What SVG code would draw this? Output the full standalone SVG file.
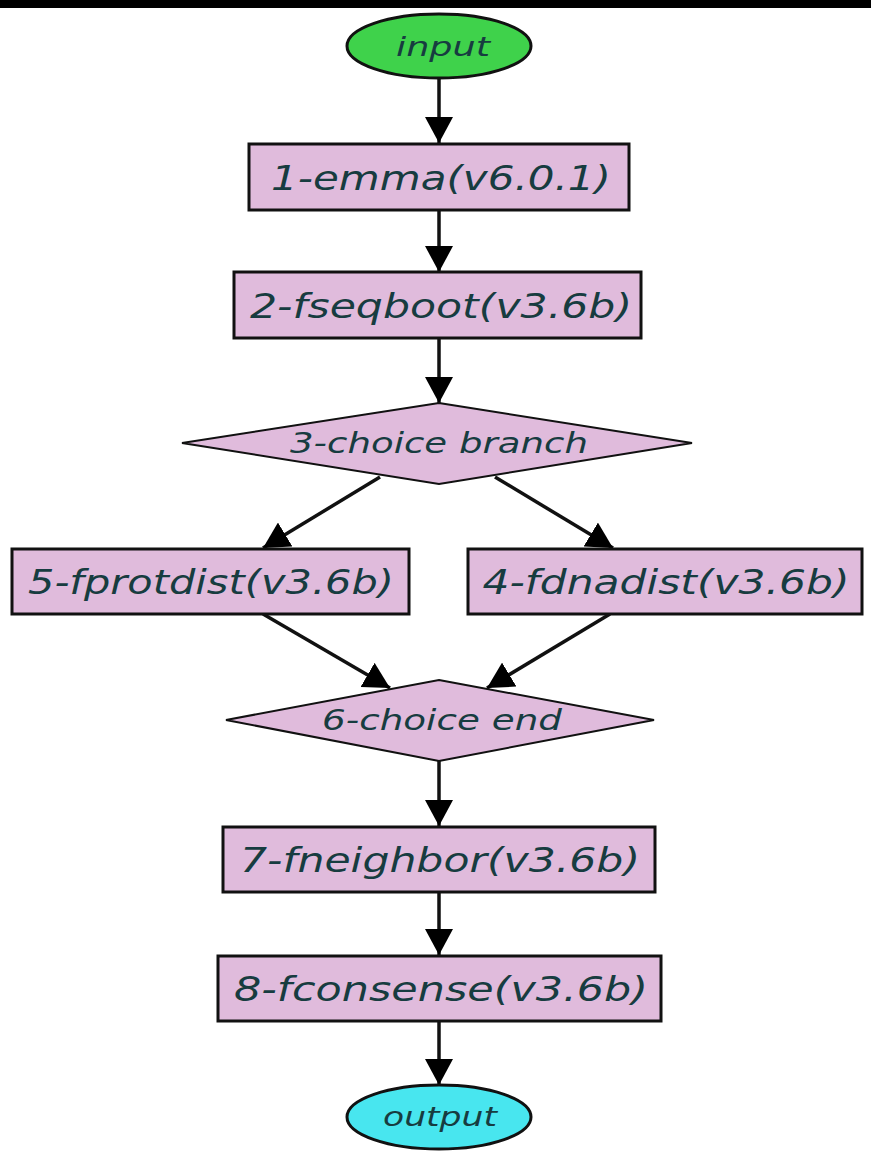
<svg xmlns="http://www.w3.org/2000/svg" width="871" height="1152" viewBox="0 0 871 1152">
<style>
.box{fill:#e0bbdc;stroke:#111;stroke-width:3}
.term{stroke:#111;stroke-width:3}
.lbl{font-family:"DejaVu Sans",sans-serif;font-style:italic;font-size:34px;fill:#173c40;text-anchor:middle}
.edge{stroke:#111;stroke-width:3.5;fill:none;marker-end:url(#ah)}
</style>
<defs>
<marker id="ah" markerUnits="userSpaceOnUse" markerWidth="26" markerHeight="28" viewBox="0 0 26 28" refX="26" refY="14" orient="auto">
<path d="M0,0 L26,14 L0,28 Z" fill="#000"/>
</marker>
</defs>
<rect x="0" y="0" width="871" height="8" fill="#000"/>
<rect x="0" y="8" width="871" height="1144" fill="#fff"/>
<g id="connectors">
<line class="edge" x1="439" y1="78" x2="439" y2="143"/>
<line class="edge" x1="439" y1="210" x2="439" y2="272"/>
<line class="edge" x1="439" y1="338" x2="439" y2="403"/>
<line class="edge" x1="380" y1="477" x2="263" y2="548"/>
<line class="edge" x1="495" y1="477" x2="613" y2="548"/>
<line class="edge" x1="263" y1="614" x2="390" y2="688"/>
<line class="edge" x1="610" y1="614" x2="487" y2="688"/>
<line class="edge" x1="439" y1="761" x2="439" y2="826"/>
<line class="edge" x1="439" y1="892" x2="439" y2="955"/>
<line class="edge" x1="439" y1="1021" x2="439" y2="1085"/>
</g>
<g id="input">
<ellipse class="term" cx="439" cy="46" rx="92" ry="32" fill="#3fd24b"/>
<text class="lbl" x="443" y="56" textLength="94" lengthAdjust="spacingAndGlyphs" style="font-size:27px">input</text>
</g>
<g id="n1">
<rect class="box" x="249" y="144" width="380" height="66"/>
<text class="lbl" x="441" y="190" textLength="340" lengthAdjust="spacingAndGlyphs">1-emma(v6.0.1)</text>
</g>
<g id="n2">
<rect class="box" x="234" y="272" width="407" height="66"/>
<text class="lbl" x="441" y="318" textLength="382" lengthAdjust="spacingAndGlyphs">2-fseqboot(v3.6b)</text>
</g>
<g id="n3">
<polygon class="box" points="439,403 692,443 439,484 182,443" style="stroke-width:2"/>
<text class="lbl" x="439" y="453" textLength="298" lengthAdjust="spacingAndGlyphs" style="font-size:28px">3-choice branch</text>
</g>
<g id="n5">
<rect class="box" x="12" y="549" width="397" height="65"/>
<text class="lbl" x="211" y="594" textLength="366" lengthAdjust="spacingAndGlyphs">5-fprotdist(v3.6b)</text>
</g>
<g id="n4">
<rect class="box" x="468" y="549" width="394" height="65"/>
<text class="lbl" x="666" y="594" textLength="367" lengthAdjust="spacingAndGlyphs">4-fdnadist(v3.6b)</text>
</g>
<g id="n6">
<polygon class="box" points="439,680 654,720 439,761 226,720" style="stroke-width:2"/>
<text class="lbl" x="442" y="730" textLength="240" lengthAdjust="spacingAndGlyphs" style="font-size:28px">6-choice end</text>
</g>
<g id="n7">
<rect class="box" x="223" y="827" width="432" height="65"/>
<text class="lbl" x="440" y="872" textLength="400" lengthAdjust="spacingAndGlyphs">7-fneighbor(v3.6b)</text>
</g>
<g id="n8">
<rect class="box" x="218" y="956" width="443" height="65"/>
<text class="lbl" x="441" y="1001" textLength="414" lengthAdjust="spacingAndGlyphs">8-fconsense(v3.6b)</text>
</g>
<g id="output">
<ellipse class="term" cx="439" cy="1117" rx="92" ry="32" fill="#48e6ef"/>
<text class="lbl" x="440" y="1126" textLength="114" lengthAdjust="spacingAndGlyphs" style="font-size:27px">output</text>
</g>
</svg>
